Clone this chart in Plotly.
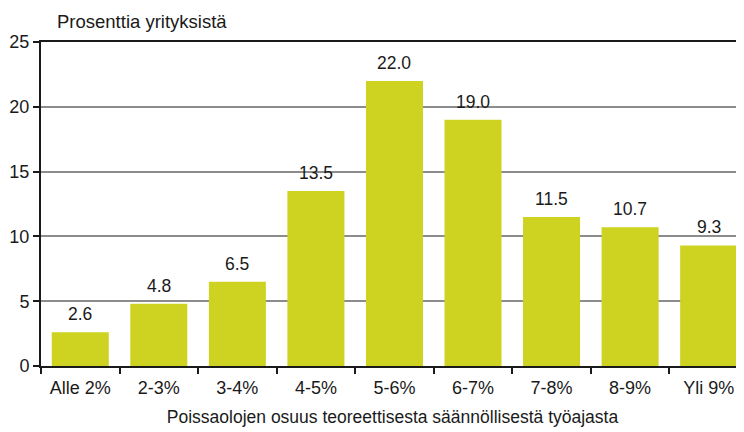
import plotly.graph_objects as go

categories = ["Alle 2%", "2-3%", "3-4%", "4-5%", "5-6%", "6-7%", "7-8%", "8-9%", "Yli 9%"]
values = [2.6, 4.8, 6.5, 13.5, 22.0, 19.0, 11.5, 10.7, 9.3]
y_ticks = [0, 5, 10, 15, 20, 25]
y_title = "Prosenttia yrityksistä"
x_title = "Poissaolojen osuus teoreettisesta säännöllisestä työajasta"

FONT = "Liberation Sans, Arial, sans-serif"
BAR = "#CDD320"
TXT = "#1a1a1a"

fig = go.Figure()
fig.add_trace(go.Bar(x=categories, y=values, marker=dict(color=BAR, line=dict(width=0)),
                     hoverinfo="skip"))

for c, v in zip(categories, values):
    fig.add_annotation(x=c, y=v, text=f"{v:.1f}", showarrow=False, xref="x", yref="y",
                       yanchor="bottom", yshift=6, font=dict(family=FONT, size=17.5, color=TXT))

fig.add_annotation(x=14 / 703, y=1 + 20 / 324, xref="paper", yref="paper",
                   text=y_title, showarrow=False, xanchor="left", yanchor="middle",
                   font=dict(family=FONT, size=18.5, color=TXT))

fig.update_layout(
    width=736, height=424,
    margin=dict(l=33, r=0, t=34, b=66, autoexpand=False),
    paper_bgcolor="white", plot_bgcolor="white",
    bargap=0.274,
    showlegend=False,
    font=dict(family=FONT, size=18, color=TXT),
    xaxis=dict(
        type="category", range=[-0.5, 8.45], automargin=False,
        showline=True, linecolor=TXT, linewidth=2, mirror=True,
        ticks="outside", ticklen=6, tickwidth=1.5, tickcolor=TXT,
        tickson="boundaries", showgrid=False, zeroline=False,
        ticklabelstandoff=4,
        tickfont=dict(family=FONT, size=18, color=TXT),
        title=dict(text=x_title, standoff=14, font=dict(family=FONT, size=17.5, color=TXT)),
    ),
    yaxis=dict(
        range=[0, 25], tickvals=y_ticks, automargin=False,
        showline=True, linecolor=TXT, linewidth=2,
        ticks="outside", ticklen=6, tickwidth=1.5, tickcolor=TXT,
        ticklabelstandoff=0,
        showgrid=True, gridcolor="#8c8c8c", gridwidth=1.5, zeroline=False,
        tickfont=dict(family=FONT, size=18, color=TXT),
    ),
)

fig.write_html("out.html")
